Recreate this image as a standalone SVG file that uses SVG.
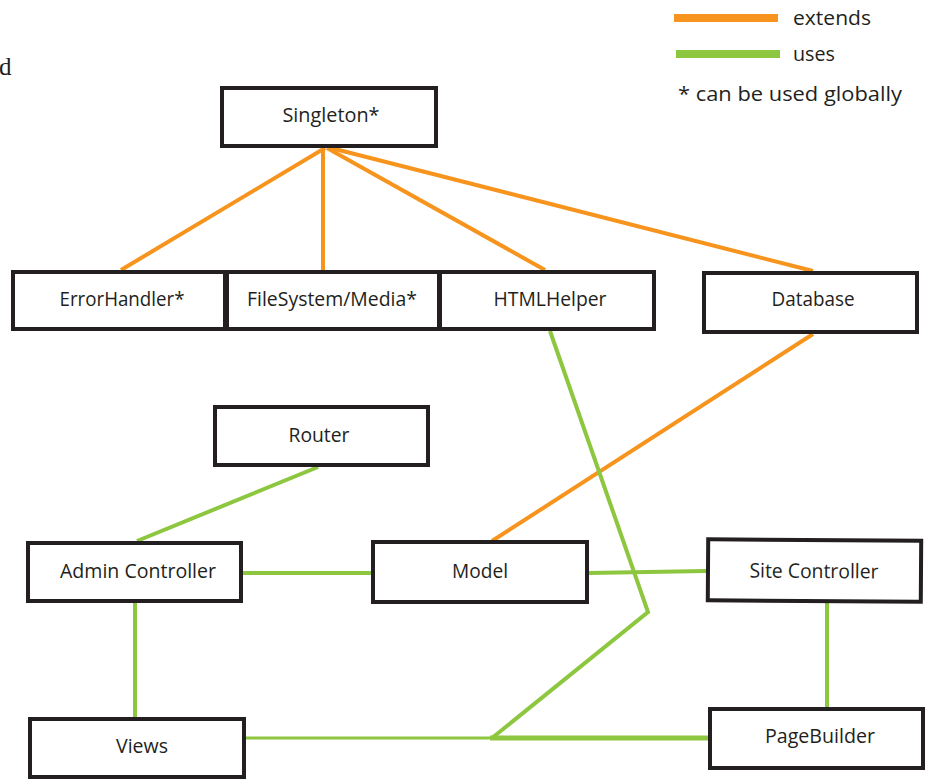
<svg xmlns="http://www.w3.org/2000/svg" width="927" height="779" viewBox="0 0 927 779">
  <style>
    .box { fill: #ffffff; stroke: #231f20; stroke-width: 4; }
    .lbl { font-family: "Open Sans", "Liberation Sans", sans-serif; font-size: 20px; fill: #231f20; text-anchor: middle; }
    .leg { font-family: "Open Sans", "Liberation Sans", sans-serif; font-size: 20px; fill: #231f20; }
    .ext { stroke: #f7941d; stroke-width: 4; fill: none; }
    .use { stroke: #8dc63f; stroke-width: 4; fill: none; stroke-linejoin: miter; }
  </style>

  <rect x="0" y="0" width="927" height="779" fill="#ffffff"/>

  <text x="-1" y="75" font-family="Liberation Serif, serif" font-size="25" fill="#231f20">d</text>

  <!-- legend -->
  <g id="legend">
    <line x1="674" y1="18" x2="778" y2="18" stroke="#f7941d" stroke-width="8"/>
    <text class="leg" x="793" y="25" textLength="78" lengthAdjust="spacingAndGlyphs">extends</text>
    <line x1="676" y1="54" x2="780" y2="54" stroke="#8dc63f" stroke-width="8"/>
    <text class="leg" x="793" y="61" textLength="42" lengthAdjust="spacingAndGlyphs">uses</text>
    <text class="leg" x="678" y="101" textLength="224" lengthAdjust="spacingAndGlyphs">*  can be used globally</text>
  </g>

  <!-- connectors -->
  <g id="connectors">
    <line class="ext" x1="325" y1="148" x2="121" y2="270"/>
    <line class="ext" x1="323" y1="148" x2="323" y2="270"/>
    <line class="ext" x1="327" y1="148" x2="545" y2="270"/>
    <line class="ext" x1="331" y1="148" x2="813" y2="271"/>
    <line class="ext" x1="813" y1="334" x2="492" y2="541"/>

    <line class="use" x1="318" y1="467" x2="137" y2="541"/>
    <line class="use" x1="243" y1="573" x2="371" y2="573"/>
    <line class="use" x1="589" y1="573" x2="706" y2="571"/>
    <line class="use" x1="135" y1="603" x2="135" y2="717"/>
    <line class="use" x1="827" y1="603" x2="827" y2="707"/>
    <polyline class="use" points="550,331 648,612 492,738"/>
    <line x1="246" y1="738" x2="492" y2="738" stroke="#8dc63f" stroke-width="3"/>
    <line x1="490" y1="738" x2="708" y2="738" stroke="#8dc63f" stroke-width="5"/>
  </g>

  <!-- nodes -->
  <g id="singleton">
    <rect class="box" x="222" y="88" width="214" height="58"/>
    <text class="lbl" x="331" y="122" textLength="97" lengthAdjust="spacingAndGlyphs">Singleton*</text>
  </g>
  <g id="errorhandler">
    <rect class="box" x="13" y="272" width="212" height="57"/>
    <text class="lbl" x="122" y="306" textLength="125" lengthAdjust="spacingAndGlyphs">ErrorHandler*</text>
  </g>
  <g id="filesystem">
    <rect class="box" x="227" y="272" width="212" height="57"/>
    <text class="lbl" x="332" y="306" textLength="170" lengthAdjust="spacingAndGlyphs">FileSystem/Media*</text>
  </g>
  <g id="htmlhelper">
    <rect class="box" x="440" y="272" width="214" height="57"/>
    <text class="lbl" x="550" y="306" textLength="113" lengthAdjust="spacingAndGlyphs">HTMLHelper</text>
  </g>
  <g id="database">
    <rect class="box" x="704" y="273" width="213" height="59"/>
    <text class="lbl" x="813" y="306" textLength="83" lengthAdjust="spacingAndGlyphs">Database</text>
  </g>
  <g id="router">
    <rect class="box" x="215" y="407" width="213" height="58"/>
    <text class="lbl" x="319" y="442" textLength="61" lengthAdjust="spacingAndGlyphs">Router</text>
  </g>
  <g id="admin-controller">
    <rect class="box" x="28" y="543" width="213" height="58"/>
    <text class="lbl" x="138" y="578" textLength="156" lengthAdjust="spacingAndGlyphs">Admin Controller</text>
  </g>
  <g id="model">
    <rect class="box" x="373" y="542" width="214" height="60"/>
    <text class="lbl" x="480" y="578" textLength="56" lengthAdjust="spacingAndGlyphs">Model</text>
  </g>
  <g id="site-controller" transform="rotate(0.4 814 570)">
    <rect class="box" x="708" y="540" width="213" height="61"/>
    <text class="lbl" x="814" y="578" textLength="129" lengthAdjust="spacingAndGlyphs">Site Controller</text>
  </g>
  <g id="views">
    <rect class="box" x="30" y="719" width="214" height="58"/>
    <text class="lbl" x="142" y="753" textLength="52" lengthAdjust="spacingAndGlyphs">Views</text>
  </g>
  <g id="pagebuilder">
    <rect class="box" x="710" y="709" width="213" height="59"/>
    <text class="lbl" x="820" y="743" textLength="110" lengthAdjust="spacingAndGlyphs">PageBuilder</text>
  </g>
</svg>
